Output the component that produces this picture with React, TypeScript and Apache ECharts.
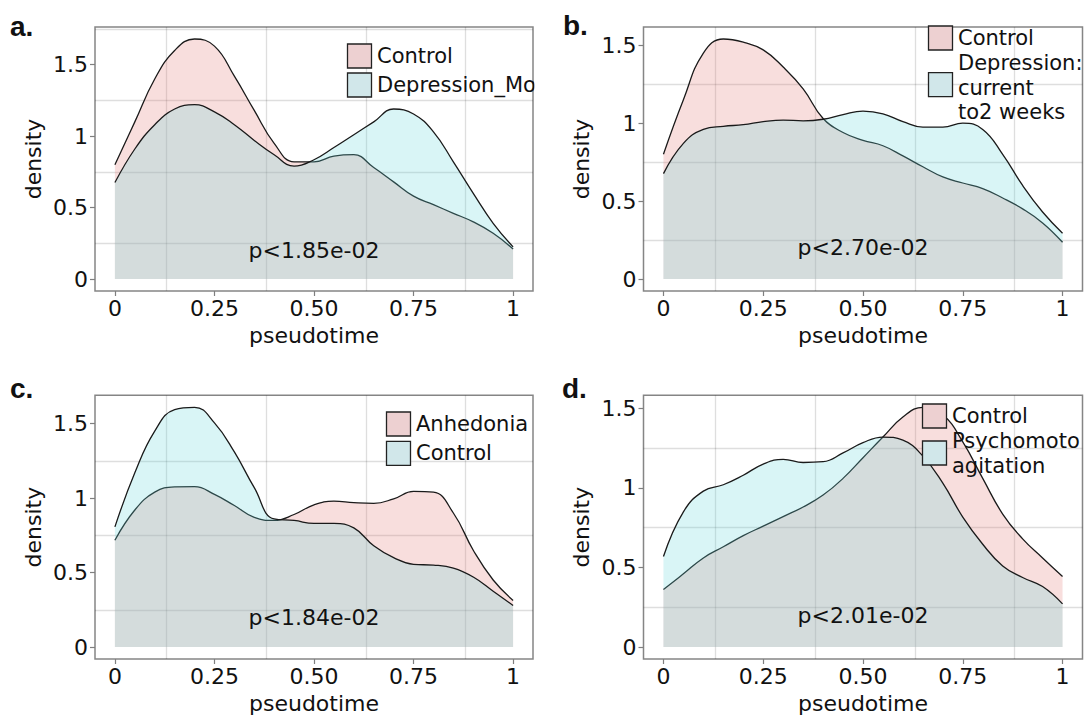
import React, { useEffect, useRef } from "react";
import * as echarts from "echarts";

// ---------- data ----------
const pseudotime = [0, 0.05, 0.1, 0.15, 0.2, 0.25, 0.3, 0.35, 0.4, 0.45, 0.5, 0.55, 0.6, 0.65, 0.7, 0.75, 0.8, 0.85, 0.9, 0.95, 1];

const aControl = [0.80, 1.10, 1.40, 1.60, 1.68, 1.63, 1.42, 1.18, 0.95, 0.82, 0.82, 0.86, 0.87, 0.78, 0.68, 0.58, 0.52, 0.46, 0.40, 0.32, 0.21];
const aDepression = [0.675, 0.91, 1.08, 1.19, 1.22, 1.17, 1.08, 0.97, 0.87, 0.79, 0.835, 0.92, 1.01, 1.10, 1.19, 1.155, 1.03, 0.82, 0.60, 0.39, 0.225];

const bControl = [0.80, 1.15, 1.45, 1.54, 1.52, 1.47, 1.36, 1.22, 1.03, 0.94, 0.89, 0.855, 0.79, 0.72, 0.655, 0.616, 0.58, 0.52, 0.45, 0.36, 0.236];
const bDepression = [0.676, 0.87, 0.96, 0.98, 0.99, 1.01, 1.02, 1.015, 1.025, 1.055, 1.077, 1.06, 1.01, 0.975, 0.975, 1.0, 0.96, 0.80, 0.60, 0.43, 0.294];

const cAnhedonia = [0.717, 0.92, 1.04, 1.075, 1.077, 1.025, 0.95, 0.87, 0.85, 0.89, 0.955, 0.98, 0.97, 0.965, 0.995, 1.045, 1.04, 0.90, 0.65, 0.45, 0.313];
const cControl = [0.807, 1.17, 1.45, 1.595, 1.61, 1.505, 1.31, 1.07, 0.86, 0.85, 0.83, 0.83, 0.80, 0.68, 0.60, 0.555, 0.55, 0.53, 0.47, 0.375, 0.279];

const dControl = [0.361, 0.46, 0.56, 0.63, 0.70, 0.76, 0.82, 0.88, 0.955, 1.06, 1.19, 1.32, 1.446, 1.507, 1.46, 1.29, 1.06, 0.836, 0.68, 0.56, 0.443];
const dPsychomotor = [0.569, 0.85, 0.98, 1.02, 1.08, 1.15, 1.18, 1.16, 1.165, 1.22, 1.285, 1.32, 1.30, 1.20, 1.03, 0.817, 0.646, 0.51, 0.437, 0.38, 0.271];

const legendA = ["Control", "Depression_Mo"];
const legendB = ["Control", "Depression:\ncurrent\nto2 weeks"];
const legendC = ["Anhedonia", "Control"];
const legendD = ["Control", "Psychomoto\nagitation"];

const pValues = ["p<1.85e-02", "p<2.70e-02", "p<1.84e-02", "p<2.01e-02"];
const pValueAt = [0.5, 0.2];
const panelLetters = ["a.", "b.", "c.", "d."];

const xTickValues = [0, 0.25, 0.5, 0.75, 1];
const xTickLabels = ["0", "0.25", "0.50", "0.75", "1"];
const yTickValues = [0, 0.5, 1, 1.5];
const yTickLabels = ["0", "0.5", "1", "1.5"];
const xGridValues = [0.125, 0.375, 0.625, 0.875];
const yGridValues = [0.25, 0.75, 1.25, 1.75];

// ---------- styles ----------
const FONT = "DejaVu Sans";
const FS = 22;
const LEGEND_FS = 21;
const TEXT = "#111111";
const PINK_AREA = "rgba(227,123,119,0.25)";
const CYAN_AREA = "rgba(103,215,219,0.25)";
const PINK_KEY = "#EDD0D1";
const CYAN_KEY = "#D1E7EA";

const panels = [
  {
    grid: { left: 95, top: 27, width: 438, height: 264 },
    letter: { x: 10, y: 26 },
    legend: { x: 347.5, y1: 44, y2: 73, t1: 56, t2: 85, lh: 24.5 },
    series: [aControl, aDepression],
    names: legendA,
  },
  {
    grid: { left: 643.5, top: 27, width: 439, height: 264 },
    letter: { x: 563, y: 25 },
    legend: { x: 928.5, y1: 26, y2: 72.7, t1: 38, t2: 87.5, lh: 24.5 },
    series: [bControl, bDepression],
    names: legendB,
  },
  {
    grid: { left: 95, top: 395.3, width: 438, height: 264 },
    letter: { x: 10, y: 388 },
    legend: { x: 386.5, y1: 412, y2: 441.3, t1: 424, t2: 453.3, lh: 24.5 },
    series: [cAnhedonia, cControl],
    names: legendC,
  },
  {
    grid: { left: 643.5, top: 395.3, width: 439, height: 264 },
    letter: { x: 562, y: 388 },
    legend: { x: 922.5, y1: 404, y2: 441, t1: 416, t2: 453.5, lh: 24.5 },
    series: [dControl, dPsychomotor],
    names: legendD,
  },
];

const fmt = (vals: number[], labels: string[]) => (v: number) => {
  const i = vals.findIndex((t) => Math.abs(t - v) < 1e-9);
  return i >= 0 ? labels[i] : "";
};

export default function App() {
  const ref = useRef<HTMLDivElement>(null);

  useEffect(() => {
    if (!ref.current) return;
    const chart = echarts.init(ref.current, null, { renderer: "svg" });

    const textStyle = { fontFamily: FONT, fontSize: FS, color: TEXT };

    const grids = panels.map((p) => ({
      ...p.grid,
      show: true,
      borderColor: "#858585",
      borderWidth: 1.5,
      backgroundColor: "rgba(0,0,0,0)",
    }));

    const xAxes = panels.map((p, i) => ({
      type: "value",
      gridIndex: i,
      min: -0.05,
      max: 1.05,
      splitLine: { show: false },
      axisLine: { show: false, onZero: false },
      axisTick: {
        show: true,
        length: 5,
        customValues: xTickValues,
        lineStyle: { color: "#7f7f7f", width: 1.2 },
      },
      axisLabel: {
        customValues: xTickValues,
        formatter: fmt(xTickValues, xTickLabels),
        margin: 6,
        ...textStyle,
      },
      name: "pseudotime",
      nameLocation: "middle",
      nameGap: 33,
      nameTextStyle: textStyle,
    }));

    const yRanges = panels.map((p) => {
      const peak = Math.max(...p.series[0], ...p.series[1]);
      return { min: -0.05 * peak, max: 1.05 * peak };
    });

    const yAxes = panels.map((p, i) => ({
      type: "value",
      gridIndex: i,
      min: yRanges[i].min,
      max: yRanges[i].max,
      splitLine: { show: false },
      axisLine: { show: false, onZero: false },
      axisTick: {
        show: true,
        length: 5,
        customValues: yTickValues,
        lineStyle: { color: "#7f7f7f", width: 1.2 },
      },
      axisLabel: {
        customValues: yTickValues,
        formatter: fmt(yTickValues, yTickLabels),
        margin: 7,
        ...textStyle,
      },
      name: "density",
      nameLocation: "middle",
      nameGap: 51,
      nameTextStyle: textStyle,
    }));

    const series: any[] = [];
    panels.forEach((p, i) => {
      const colors = [PINK_AREA, CYAN_AREA];
      p.series.forEach((vals, k) => {
        const s: any = {
          type: "line",
          name: p.names[k],
          xAxisIndex: i,
          yAxisIndex: i,
          data: pseudotime.map((x, j) => [x, vals[j]]),
          smooth: 0.45,
          symbol: "none",
          lineStyle: { color: "#1a1a1a", width: 1.3 },
          areaStyle: { color: colors[k], opacity: 1 },
          silent: true,
          z: 2 + k,
        };
        if (k === 0) {
          s.markLine = {
            silent: true,
            symbol: ["none", "none"],
            z: 1,
            label: { show: false },
            emphasis: { disabled: true },
            lineStyle: { color: "rgba(0,0,0,0.13)", width: 1.3, type: "solid" },
            data: [
              ...xGridValues.map((v) => ({ xAxis: v })),
              ...yGridValues.filter((v) => v < yRanges[i].max).map((v) => ({ yAxis: v })),
            ],
          };
        } else {
          s.markPoint = {
            silent: true,
            symbol: "circle",
            symbolSize: 1,
            itemStyle: { color: "rgba(0,0,0,0)" },
            label: {
              show: true,
              position: "inside",
              formatter: pValues[i],
              ...textStyle,
            },
            data: [{ coord: pValueAt }],
          };
        }
        series.push(s);
      });
    });

    const graphic: any[] = [];
    panels.forEach((p, i) => {
      graphic.push({
        type: "text",
        x: p.letter.x,
        y: p.letter.y,
        z: 10,
        style: {
          text: panelLetters[i],
          font: "bold 28px 'Liberation Sans', Arial, sans-serif",
          fill: "#111",
          verticalAlign: "middle",
          align: "left",
        },
      });
      const keyFills = [PINK_KEY, CYAN_KEY];
      const keyYs = [p.legend.y1, p.legend.y2];
      const textYs = [p.legend.t1, p.legend.t2];
      keyYs.forEach((ky, k) => {
        graphic.push({
          type: "rect",
          z: 10,
          shape: { x: p.legend.x, y: ky, width: 24, height: 24 },
          style: { fill: keyFills[k], stroke: "#222", lineWidth: 1.3 },
        });
        graphic.push({
          type: "text",
          z: 10,
          x: p.legend.x + 29.5,
          y: textYs[k],
          style: {
            text: p.names[k],
            fontFamily: FONT,
            fontSize: LEGEND_FS,
            lineHeight: p.legend.lh,
            fill: TEXT,
            verticalAlign: "middle",
            align: "left",
          },
        });
      });
    });
    // emulate the crop of panel a's legend text at its right border
    graphic.push({
      type: "rect",
      z: 11,
      shape: { x: 534.4, y: 35, width: 26, height: 70 },
      style: { fill: "#fff" },
    });

    chart.setOption({
      animation: false,
      backgroundColor: "#ffffff",
      grid: grids,
      xAxis: xAxes,
      yAxis: yAxes,
      series,
      graphic,
    });

    return () => chart.dispose();
  }, []);

  return (
    <div
      ref={ref}
      style={{ position: "fixed", left: 0, top: 0, width: 1091, height: 715, background: "#fff" }}
    />
  );
}
